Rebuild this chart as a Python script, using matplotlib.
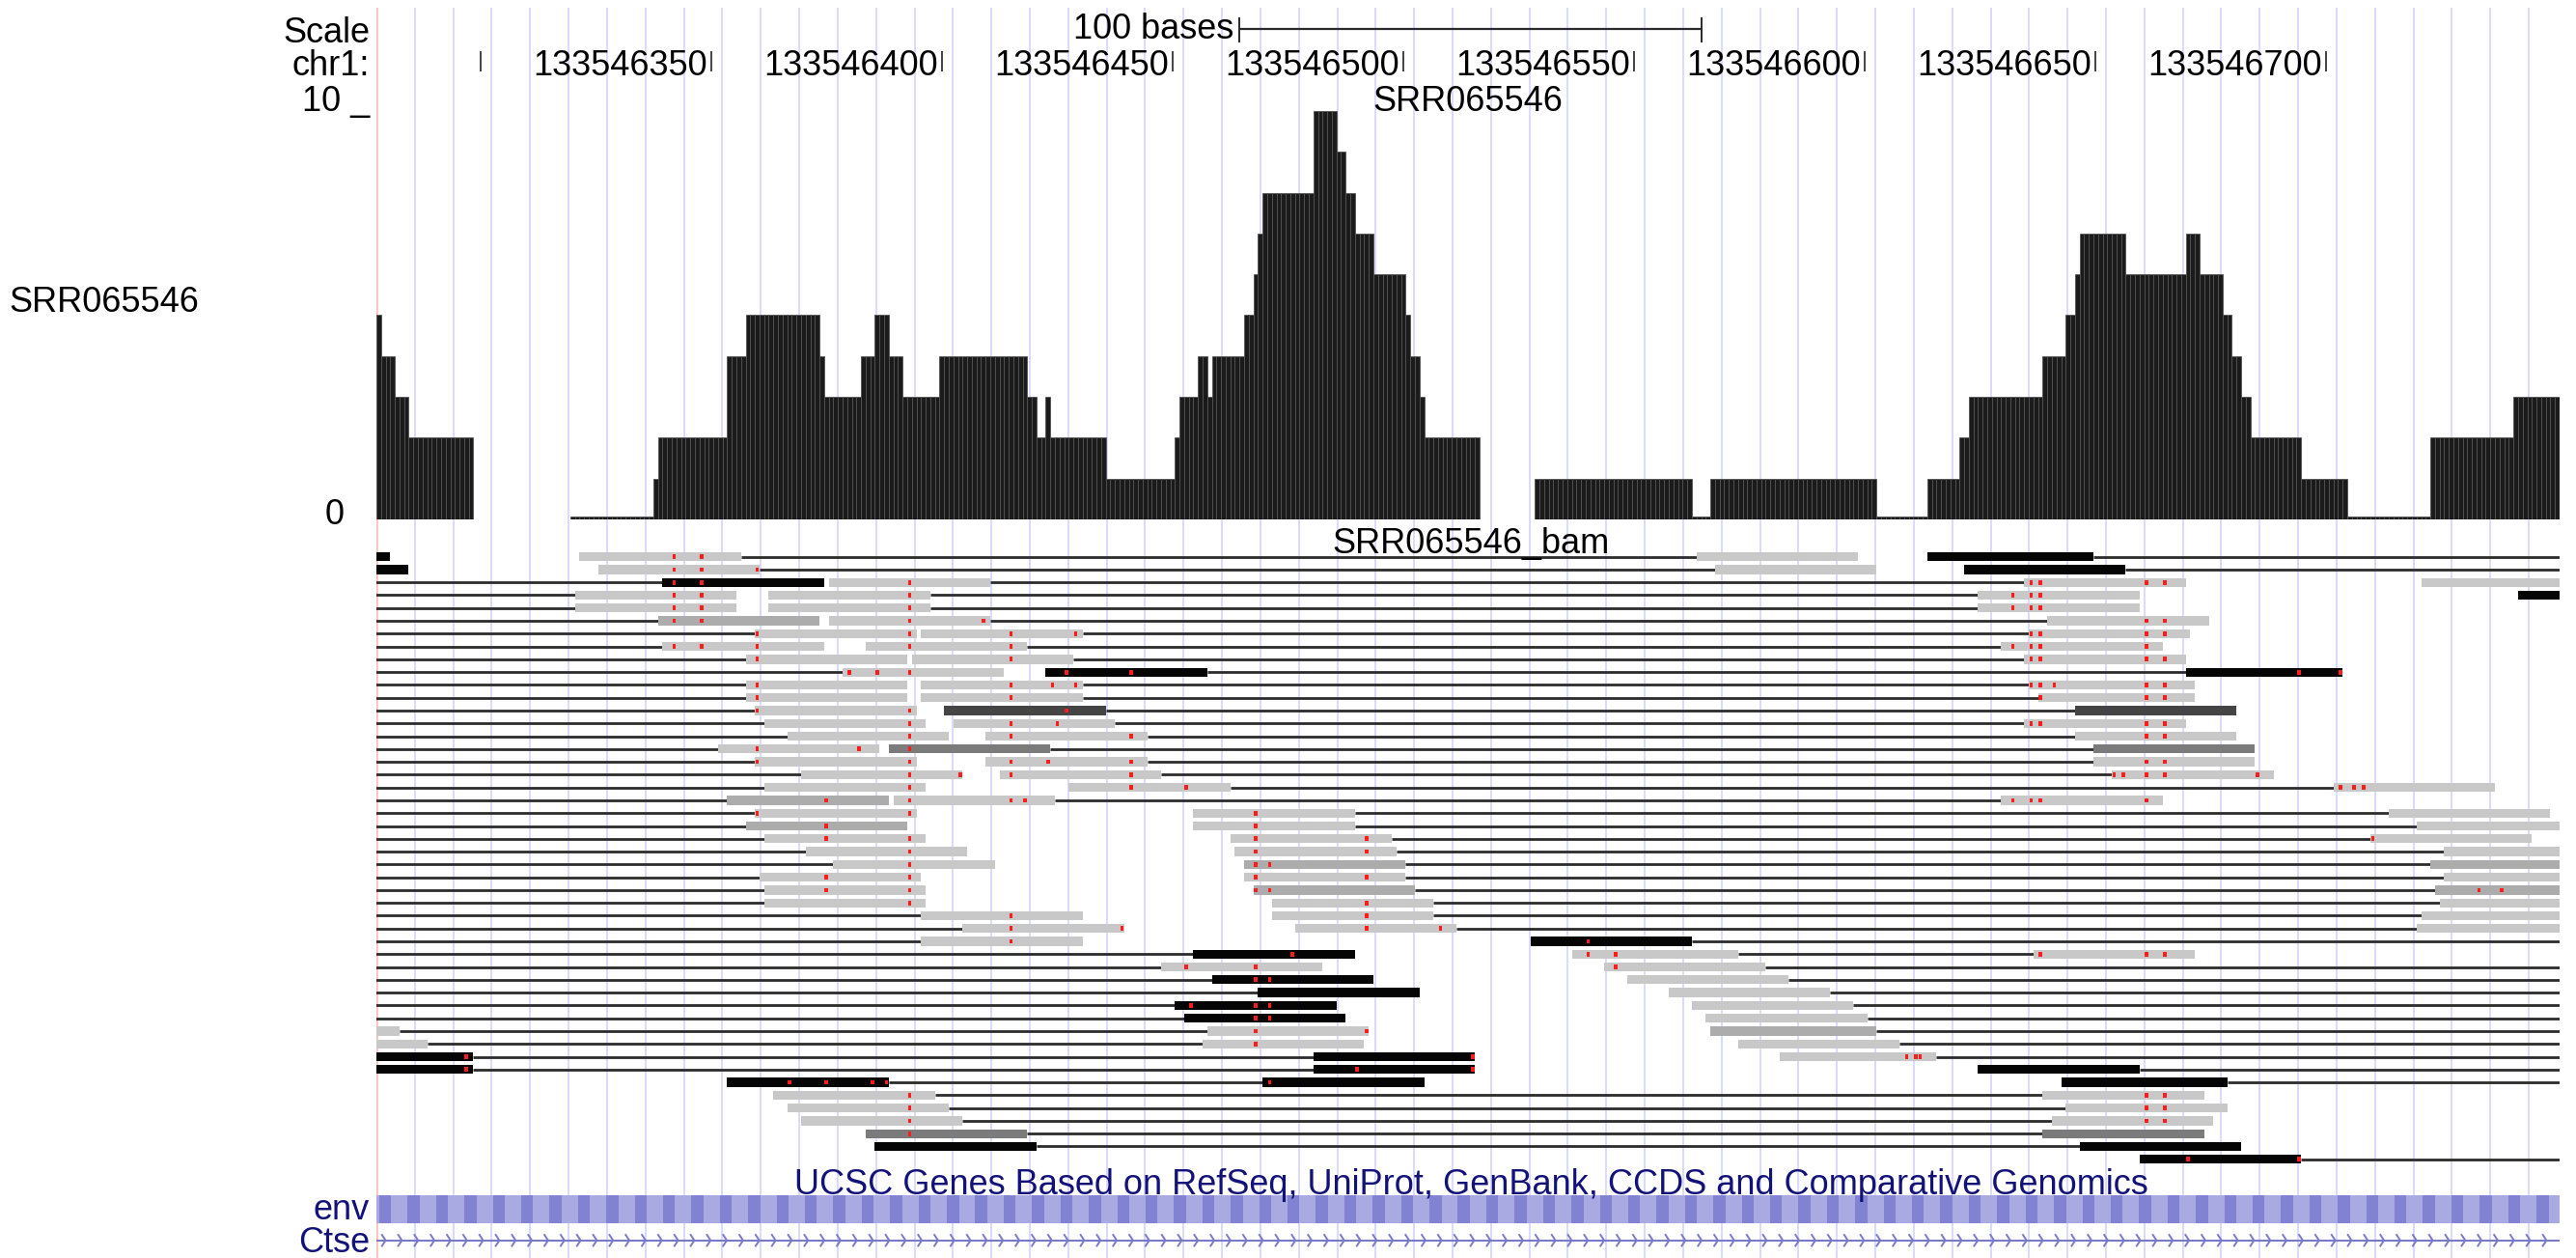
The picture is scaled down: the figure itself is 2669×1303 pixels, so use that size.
import numpy as np
import matplotlib
matplotlib.use("Agg")
import matplotlib.pyplot as plt
from matplotlib.collections import LineCollection

plt.rcParams['font.family'] = ['Liberation Sans', 'DejaVu Sans']
FS = 26

W, H = 2669, 1303

#----------------- DATA -----------------
# view chr1:133546278-133546750, 0-based half open coords
CHROM = "chr1"
WIN0 = 133546277
WIN1 = 133546750
TRACK = "SRR065546"
TICKS = [133546300, 133546350, 133546400, 133546450, 133546500,
         133546550, 133546600, 133546650, 133546700]
SCALE_BAR = (133546464, 133546564)
SCALE_LABEL = "100 bases"
GENE_TITLE = "UCSC Genes Based on RefSeq, UniProt, GenBank, CCDS and Comparative Genomics"
GENES = ["env", "Ctse"]

# coverage : (first base offset, end offset, depth) ; offsets not listed = no data
COV_RUNS = [
    (0, 1, 5), (1, 4, 4), (4, 7, 3), (7, 21, 2),
    (42, 60, 0), (60, 61, 1), (61, 76, 2), (76, 80, 4), (80, 96, 5), (96, 97, 4),
    (97, 105, 3), (105, 108, 4), (108, 111, 5), (111, 114, 4), (114, 122, 3),
    (122, 141, 4), (141, 143, 3), (143, 145, 2), (145, 146, 3), (146, 158, 2),
    (158, 173, 1), (173, 174, 2), (174, 178, 3), (178, 180, 4), (180, 181, 3),
    (181, 188, 4), (188, 190, 5), (190, 191, 6), (191, 192, 7), (192, 203, 8),
    (203, 208, 10), (208, 210, 9), (210, 212, 8), (212, 216, 7), (216, 223, 6),
    (223, 224, 5), (224, 226, 4), (226, 227, 3), (227, 239, 2),
    (251, 285, 1), (285, 289, 0), (289, 325, 1), (325, 336, 0), (336, 343, 1),
    (343, 345, 2), (345, 361, 3), (361, 366, 4), (366, 368, 5), (368, 369, 6),
    (369, 379, 7), (379, 392, 6), (392, 395, 7), (395, 400, 6), (400, 402, 5),
    (402, 404, 4), (404, 406, 3), (406, 417, 2), (417, 427, 1), (427, 445, 0),
    (445, 463, 2), (463, 473, 3),
]

# reads : (row, start offset, end offset, shade)
READS = [
    (0, -32, 3, 'k'), (0, 44, 79, 'l'), (0, 286, 321, 'l'), (0, 336, 372, 'k'),
    (1, -29, 7, 'k'), (1, 48, 83, 'l'), (1, 290, 325, 'l'), (1, 344, 379, 'k'),
    (2, 62, 97, 'k'), (2, 98, 133, 'l'), (2, 357, 392, 'l'), (2, 443, 478, 'l'),
    (3, 43, 78, 'l'), (3, 85, 120, 'l'), (3, 347, 382, 'l'), (3, 464, 499, 'k'),
    (4, 43, 78, 'l'), (4, 85, 120, 'l'), (4, 347, 382, 'l'),
    (5, 61, 96, 'm'), (5, 98, 133, 'l'), (5, 362, 397, 'l'),
    (6, 82, 117, 'l'), (6, 118, 153, 'l'), (6, 358, 393, 'l'),
    (7, 62, 97, 'l'), (7, 106, 141, 'l'), (7, 352, 387, 'l'),
    (8, 80, 115, 'l'), (8, 116, 151, 'l'), (8, 357, 392, 'l'),
    (9, 101, 136, 'l'), (9, 145, 180, 'k'), (9, 392, 426, 'k'),
    (10, 80, 115, 'l'), (10, 118, 153, 'l'), (10, 358, 394, 'l'),
    (11, 80, 115, 'l'), (11, 118, 153, 'l'), (11, 360, 394, 'l'),
    (12, 82, 117, 'l'), (12, 123, 158, 'g'), (12, 368, 403, 'g'),
    (13, 84, 119, 'l'), (13, 125, 160, 'l'), (13, 357, 392, 'l'),
    (14, 89, 124, 'l'), (14, 132, 167, 'l'), (14, 368, 403, 'l'),
    (15, 74, 109, 'l'), (15, 111, 146, 'd'), (15, 372, 407, 'd'),
    (16, 82, 117, 'l'), (16, 132, 167, 'l'), (16, 372, 407, 'l'),
    (17, 92, 127, 'l'), (17, 135, 170, 'l'), (17, 376, 411, 'l'),
    (18, 84, 119, 'l'), (18, 150, 185, 'l'), (18, 424, 459, 'l'),
    (19, 76, 111, 'm'), (19, 112, 147, 'l'), (19, 352, 387, 'l'),
    (20, 82, 117, 'l'), (20, 177, 212, 'l'), (20, 436, 471, 'l'),
    (21, 80, 115, 'm'), (21, 177, 212, 'l'), (21, 442, 477, 'l'),
    (22, 84, 119, 'l'), (22, 185, 220, 'l'), (22, 432, 467, 'l'),
    (23, 93, 128, 'l'), (23, 186, 221, 'l'), (23, 448, 483, 'l'),
    (24, 99, 134, 'l'), (24, 188, 223, 'm'), (24, 445, 480, 'm'),
    (25, 83, 118, 'l'), (25, 188, 223, 'l'), (25, 448, 483, 'l'),
    (26, 84, 119, 'l'), (26, 190, 225, 'm'), (26, 446, 481, 'm'),
    (27, 84, 119, 'l'), (27, 194, 229, 'l'), (27, 447, 482, 'l'),
    (28, 118, 153, 'l'), (28, 194, 229, 'l'), (28, 443, 478, 'l'),
    (29, 127, 162, 'l'), (29, 199, 234, 'l'), (29, 442, 477, 'l'),
    (30, 118, 153, 'l'), (30, 250, 285, 'k'),
    (31, 177, 212, 'k'), (31, 259, 295, 'l'), (31, 359, 394, 'l'),
    (32, 170, 205, 'l'), (32, 266, 301, 'l'),
    (33, 181, 216, 'k'), (33, 271, 306, 'l'),
    (34, 191, 226, 'k'), (34, 280, 315, 'l'),
    (35, 173, 208, 'k'), (35, 285, 320, 'l'),
    (36, 175, 210, 'k'), (36, 288, 323, 'l'),
    (37, -30, 5, 'l'), (37, 180, 215, 'l'), (37, 289, 325, 'm'),
    (38, -25, 11, 'l'), (38, 179, 214, 'l'), (38, 295, 330, 'l'),
    (39, -15, 21, 'k'), (39, 203, 238, 'k'), (39, 304, 338, 'l'),
    (40, -15, 21, 'k'), (40, 203, 238, 'k'), (40, 347, 382, 'k'),
    (41, 76, 111, 'k'), (41, 192, 227, 'k'), (41, 365, 401, 'k'),
    (42, 86, 121, 'l'), (42, 361, 396, 'l'),
    (43, 89, 124, 'l'), (43, 366, 401, 'l'),
    (44, 92, 127, 'l'), (44, 363, 398, 'l'),
    (45, 106, 141, 'd'), (45, 361, 396, 'd'),
    (46, 108, 143, 'k'), (46, 369, 404, 'k'),
    (47, 382, 417, 'k'),
]

# mate pair lines : (row, start offset, end offset)
LINKS = [
    (0, 79, 286), (0, 372, 520), (1, 83, 290), (1, 379, 520),
    (2, -40, 62), (2, 133, 357), (3, -40, 43), (3, 120, 347),
    (4, -40, 43), (4, 120, 347), (5, -40, 61), (5, 133, 362),
    (6, -40, 82), (6, 153, 358), (7, -40, 62), (7, 141, 352),
    (8, -40, 80), (8, 151, 357), (9, -40, 101), (9, 180, 392),
    (10, -40, 80), (10, 153, 358), (11, -40, 80), (11, 153, 360),
    (12, -40, 82), (12, 158, 368), (13, -40, 84), (13, 160, 357),
    (14, -40, 89), (14, 167, 368), (15, -40, 74), (15, 146, 372),
    (16, -40, 82), (16, 167, 372), (17, -40, 92), (17, 170, 376),
    (18, -40, 84), (18, 185, 424), (19, -40, 76), (19, 147, 352),
    (20, -40, 82), (20, 212, 436), (21, -40, 80), (21, 212, 442),
    (22, -40, 84), (22, 220, 432), (23, -40, 93), (23, 221, 448),
    (24, -40, 99), (24, 223, 445), (25, -40, 83), (25, 223, 448),
    (26, -40, 84), (26, 225, 446), (27, -40, 84), (27, 229, 447),
    (28, -40, 118), (28, 229, 443), (29, -40, 127), (29, 234, 442),
    (30, -40, 118), (30, 285, 520), (31, -40, 177), (31, 295, 359),
    (32, -40, 170), (32, 301, 520), (33, -40, 181), (33, 306, 520),
    (34, -40, 191), (34, 315, 520), (35, -40, 173), (35, 320, 520),
    (36, -40, 175), (36, 323, 520), (37, 5, 180), (37, 325, 520),
    (38, 11, 179), (38, 330, 520), (39, 21, 203), (39, 338, 520),
    (40, 21, 203), (40, 382, 520), (41, 111, 192), (41, 401, 520),
    (42, 121, 361), (43, 124, 366), (44, 127, 363), (45, 141, 361),
    (46, 143, 369), (47, 417, 520),
]

# mismatching bases : (row, [offsets])
MISMATCH = [
    (0, [64, 70]), (1, [64, 70, 82]), (2, [64, 70, 115, 358, 360, 383, 387]),
    (3, [64, 70, 115, 354, 358, 360]), (4, [64, 70, 115, 354, 358, 360]),
    (5, [64, 70, 115, 131, 383, 387]), (6, [82, 115, 137, 151, 358, 360, 383, 387]),
    (7, [64, 70, 82, 115, 137, 354, 358, 360, 383]), (8, [82, 137, 358, 360, 383, 387]),
    (9, [102, 108, 115, 149, 163, 416, 425]), (10, [82, 137, 146, 151, 358, 360, 363, 383, 387]),
    (11, [82, 137, 360, 383, 387]), (12, [82, 115, 149]),
    (13, [115, 137, 147, 358, 360, 383, 387]), (14, [115, 137, 163, 383, 387]),
    (15, [82, 104, 115]), (16, [82, 115, 137, 145, 163, 383, 387]),
    (17, [115, 126, 137, 163, 376, 378, 383, 387, 407]), (18, [115, 163, 175, 425, 428, 430]),
    (19, [97, 115, 137, 140, 354, 358, 360, 383]), (20, [82, 115, 190]), (21, [97, 190]),
    (22, [97, 115, 190, 214, 432]), (23, [115, 190, 214]), (24, [115, 190, 193]),
    (25, [97, 115, 190, 214]), (26, [97, 115, 190, 193, 455, 460]), (27, [115, 214]),
    (28, [137, 214]), (29, [137, 161, 214, 230]), (30, [137, 262]),
    (31, [198, 262, 268, 360, 383, 387]), (32, [175, 190, 268]), (33, [190, 193]),
    (35, [176, 190, 193]), (36, [190, 193]), (37, [190, 214]), (38, [190]),
    (39, [19, 237, 331, 333, 334]), (40, [19, 212, 237]), (41, [89, 97, 107, 110, 193]),
    (42, [115, 383, 387]), (43, [115, 383, 387]), (44, [115, 383, 387]), (45, [115]),
    (47, [392, 416]),
]

SHADE = {'l': '#c8c8c8', 'm': '#acacac', 'd': '#7b7b7b', 'g': '#454545', 'k': '#050505'}
NAVY = '#12127a'

#----------------- FIGURE -----------------
fig = plt.figure(figsize=(W / 100, H / 100), dpi=100)
fig.patch.set_facecolor('white')

def px_axes(x0, y0, x1, y1):
    ax = fig.add_axes([x0 / W, 1 - y1 / H, (x1 - x0) / W, (y1 - y0) / H])
    ax.set_axis_off()
    ax.set_xlim(WIN0, WIN1)
    return ax

def ftext(x, y, s, **kw):
    kw.setdefault('fontsize', FS)
    kw.setdefault('va', 'baseline')
    fig.text(x / W, 1 - y / H, s, **kw)

L, R = 390, 2652

# guidelines behind everything
ax_bg = px_axes(L, 8, R, H)
ax_bg.set_ylim(0, 1)
guides = WIN0 + np.arange(1, 57) * 8.327
ax_bg.vlines(guides, 0, 1, color='#d4d4ff', lw=1.2)
ax_bg.axvline(WIN0 + 0.1, color='#ffbcbc', lw=1.8)

# ruler
ax_h = px_axes(L, 0, R, 100)
ax_h.set_ylim(100, 0)
ax_h.hlines(30, SCALE_BAR[0], SCALE_BAR[1], color='#2a2a2a', lw=1.6)
ax_h.vlines(SCALE_BAR, 18, 44, color='#2a2a2a', lw=1.4)
ax_h.text(SCALE_BAR[0] - 1.3, 40, SCALE_LABEL, ha='right', va='baseline', fontsize=FS)
for i, p in enumerate(TICKS):
    ax_h.vlines(p - 0.5, 53, 74, color='#111111', lw=1.1)
    if i > 0:
        ax_h.text(p - 1.4, 78, str(p), ha='right', va='baseline', fontsize=FS)

ftext(383, 44, "Scale", ha='right')
ftext(383, 78, CHROM + ":", ha='right')

# coverage track
ax_c = px_axes(L, 115, R, 538)
ax_c.set_ylim(0, 10)
cov = np.full(WIN1 - WIN0, np.nan)
for a, b, v in COV_RUNS:
    cov[a:b] = v
xs = WIN0 + np.arange(len(cov)) + 0.5
ok = ~np.isnan(cov)
hts = np.where(cov[ok] > 0, cov[ok], 0.07)
ax_c.bar(xs[ok], hts, width=1.0, color='#1b1b1b', edgecolor='#525252', linewidth=0.6)
ax_c.text(0.5 * (WIN0 + WIN1), 10, TRACK, ha='center', va='baseline', fontsize=FS)

ftext(383, 115, "10 _", ha='right')
ftext(357, 543, "0", ha='right')
ftext(9, 323, TRACK, ha='left')

# reads track
ax_r = px_axes(L, 570, R, 1207.4)
ax_r.set_ylim(47.5, -0.5)
for row, a, b in LINKS:
    ax_r.hlines(row, WIN0 + a, WIN0 + b, color='#2c2c2c', lw=2.0, zorder=1)
for row, a, b, s in READS:
    ax_r.barh(row, b - a, left=WIN0 + a, height=0.7, color=SHADE[s], linewidth=0, zorder=2)
for row, poss in MISMATCH:
    for p in poss:
        ax_r.bar(WIN0 + p + 0.5, 0.36, width=0.75, bottom=row - 0.18, color='#ff1c1c',
                 linewidth=0, zorder=3)
ftext(1524, 573, TRACK + "_bam", ha='center')

# gene tracks
ax_g = px_axes(L, 1236, R, 1301)
ax_g.set_ylim(1.5, -0.5)
ax_g.barh(0, WIN1 - WIN0, left=WIN0, height=0.9, color='#aaaae2', linewidth=0)
stripes = WIN0 + np.arange(0.6, WIN1 - WIN0, 6.15)
ax_g.barh([0] * len(stripes), 2.6, left=stripes, height=0.9, color='#8282d2', linewidth=0)
ax_g.hlines(1, WIN0, WIN1, color='#7a7ac8', lw=1.5)
heads = WIN0 + np.arange(2.0, WIN1 - WIN0, 3.52)
segs = [[(x - 0.9, 1 - 0.2), (x, 1), (x - 0.9, 1 + 0.2)] for x in heads]
ax_g.add_collection(LineCollection(segs, colors='#7a7ac8', linewidths=1.4))

ftext(1524, 1237, GENE_TITLE, ha='center', color=NAVY)
ftext(383, 1263, GENES[0], ha='right', color=NAVY)
ftext(383, 1297, GENES[1], ha='right', color=NAVY)

fig.savefig("out.png", dpi=100)
